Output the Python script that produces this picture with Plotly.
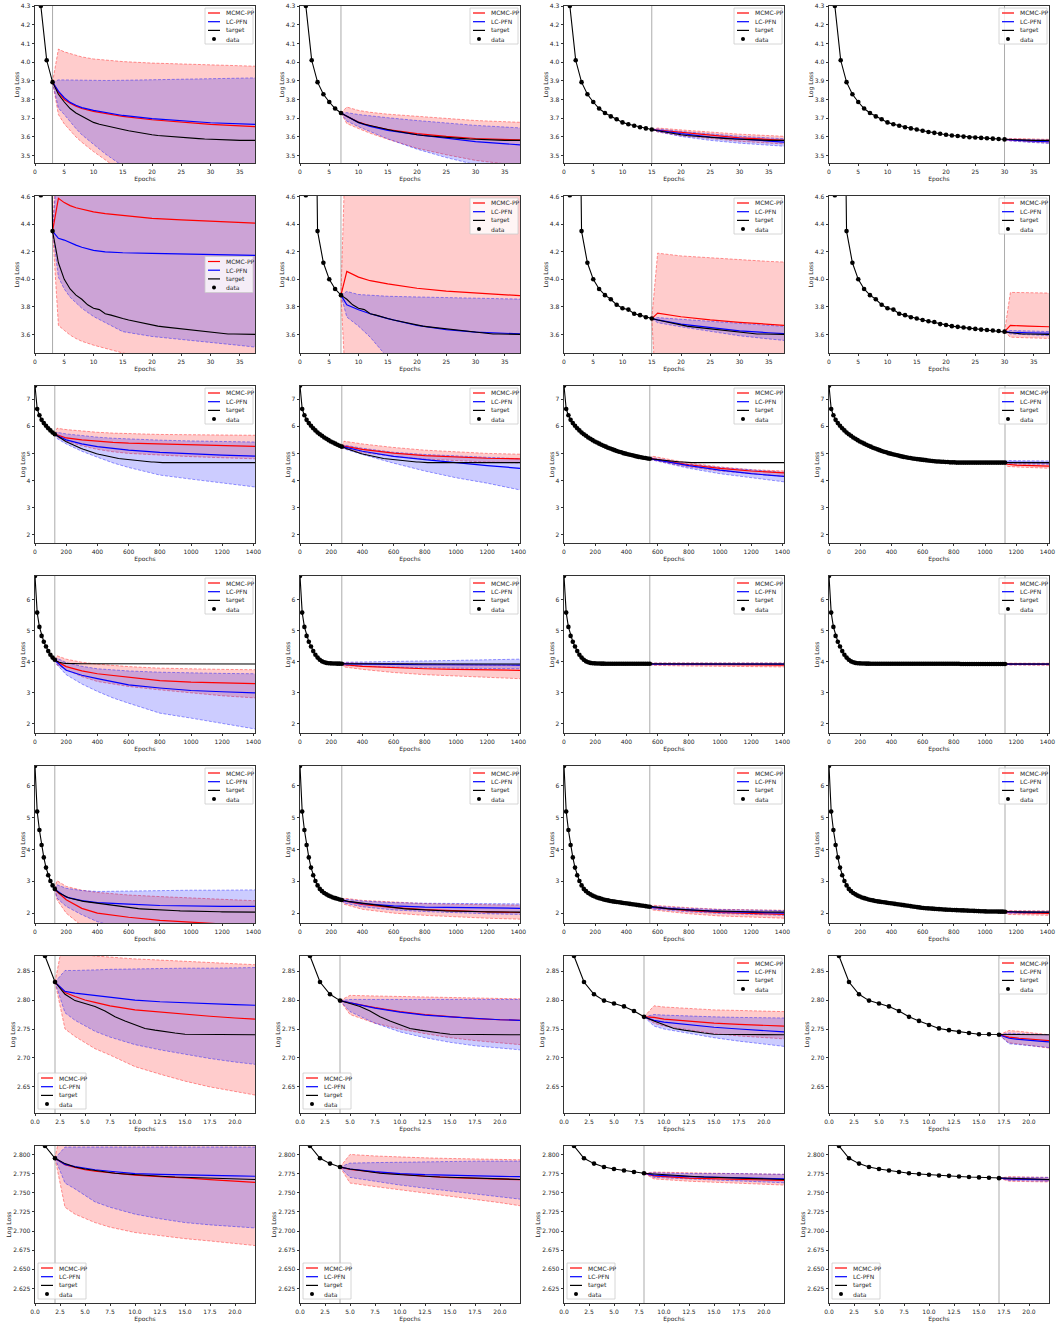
import plotly.graph_objects as go

# ---------------------------------------------------------------- data ----
# Learning curves (one per row); the four panels of a row cut the same curve
# at different epochs.
R1_EPOCHS = list(range(1, 39))
R1_TARGET = [4.30, 4.01, 3.893, 3.828, 3.787, 3.752, 3.728, 3.71, 3.695, 3.678,
             3.668, 3.66, 3.652, 3.646, 3.640, 3.633, 3.627, 3.622, 3.617, 3.612,
             3.608, 3.605, 3.602, 3.599, 3.597, 3.595, 3.593, 3.591, 3.589, 3.587,
             3.585, 3.584, 3.583, 3.583, 3.582, 3.582, 3.582, 3.582]
R1_CUTOFFS = [3, 7, 15, 30]

R2_EPOCHS = list(range(1, 39))
R2_TARGET = [4.61, 8.0, 4.35, 4.12, 4.00, 3.93, 3.885, 3.855, 3.815, 3.79,
             3.78, 3.75, 3.74, 3.725, 3.715, 3.705, 3.695, 3.69, 3.675, 3.668,
             3.66, 3.655, 3.65, 3.645, 3.64, 3.635, 3.632, 3.628, 3.625, 3.62,
             3.615, 3.605, 3.603, 3.603, 3.602, 3.601, 3.600, 3.600]
R2_CUTOFFS = [3, 7, 15, 30]

EPOCH_STEP = 14.1
R3_EPOCHS = [round(EPOCH_STEP * k, 1) for k in range(101)]
R3_TARGET = [7.50, 6.64, 6.41, 6.24, 6.12, 6.02, 5.93, 5.85, 5.77, 5.71,
             5.65, 5.59, 5.54, 5.49, 5.44, 5.40, 5.36, 5.32, 5.28, 5.25,
             5.21, 5.18, 5.15, 5.12, 5.09, 5.06, 5.04, 5.01, 4.99, 4.97,
             4.95, 4.93, 4.91, 4.89, 4.87, 4.86, 4.84, 4.83, 4.81, 4.80,
             4.79, 4.78, 4.77, 4.76, 4.75, 4.74, 4.73, 4.72, 4.71, 4.70,
             4.70, 4.69, 4.69, 4.68, 4.68, 4.67, 4.67, 4.67, 4.66, 4.66,
             4.66, 4.66, 4.66, 4.66, 4.66, 4.66, 4.66, 4.66, 4.66, 4.66,
             4.66, 4.66, 4.66, 4.66, 4.66, 4.66, 4.66, 4.66, 4.66, 4.66,
             4.66, 4.66, 4.66, 4.66, 4.66, 4.66, 4.66, 4.66, 4.66, 4.66,
             4.66, 4.66, 4.66, 4.66, 4.66, 4.66, 4.66, 4.66, 4.66, 4.66,
             4.66]
R3_CUTOFFS = [126.9, 267.9, 549.9, 1128.0]

R4_EPOCHS = [round(EPOCH_STEP * k, 1) for k in range(101)]
R4_TARGET = [6.76, 5.58, 5.12, 4.83, 4.64, 4.49, 4.34, 4.22, 4.13, 4.06,
             4.01, 3.98, 3.96, 3.95, 3.945, 3.94, 3.94, 3.935, 3.935, 3.93,
             3.93, 3.93, 3.93, 3.93, 3.93, 3.93, 3.93, 3.93, 3.93, 3.93,
             3.93, 3.93, 3.93, 3.93, 3.93, 3.93, 3.93, 3.93, 3.93, 3.93,
             3.93, 3.93, 3.93, 3.93, 3.93, 3.93, 3.93, 3.93, 3.93, 3.93,
             3.93, 3.93, 3.93, 3.93, 3.93, 3.93, 3.93, 3.93, 3.93, 3.93,
             3.925, 3.925, 3.925, 3.925, 3.925, 3.925, 3.925, 3.925, 3.925, 3.925,
             3.925, 3.925, 3.925, 3.925, 3.925, 3.925, 3.925, 3.925, 3.925, 3.925,
             3.925, 3.925, 3.925, 3.925, 3.925, 3.925, 3.925, 3.925, 3.925, 3.925,
             3.925, 3.925, 3.925, 3.925, 3.925, 3.925, 3.925, 3.925, 3.925, 3.925,
             3.925]
R4_CUTOFFS = [126.9, 267.9, 549.9, 1128.0]

R5_EPOCHS = [round(EPOCH_STEP * k, 1) for k in range(101)]
R5_TARGET = [6.62, 5.19, 4.61, 4.14, 3.75, 3.43, 3.19, 3.01, 2.87, 2.76,
             2.69, 2.63, 2.59, 2.55, 2.52, 2.49, 2.47, 2.45, 2.43, 2.41,
             2.40, 2.38, 2.37, 2.36, 2.35, 2.34, 2.33, 2.32, 2.31, 2.30,
             2.29, 2.28, 2.27, 2.26, 2.25, 2.24, 2.23, 2.22, 2.21, 2.20,
             2.19, 2.18, 2.17, 2.16, 2.155, 2.15, 2.145, 2.14, 2.135, 2.13,
             2.125, 2.12, 2.115, 2.11, 2.107, 2.104, 2.10, 2.097, 2.094, 2.091,
             2.088, 2.085, 2.082, 2.079, 2.076, 2.073, 2.07, 2.067, 2.064, 2.061,
             2.058, 2.055, 2.053, 2.052, 2.051, 2.05, 2.049, 2.048, 2.047, 2.046,
             2.045, 2.044, 2.043, 2.042, 2.041, 2.04, 2.039, 2.038, 2.037, 2.036,
             2.035, 2.035, 2.034, 2.034, 2.033, 2.033, 2.032, 2.032, 2.031, 2.031,
             2.03]
R5_CUTOFFS = [126.9, 267.9, 549.9, 1128.0]

R6_EPOCHS = list(range(1, 23))
R6_TARGET = [2.876, 2.831, 2.810, 2.799, 2.794, 2.789, 2.781, 2.771, 2.764, 2.757,
             2.751, 2.748, 2.745, 2.743, 2.741, 2.741, 2.740, 2.740, 2.740, 2.740,
             2.740, 2.740]
R6_CUTOFFS = [2, 4, 8, 17]

R7_EPOCHS = list(range(1, 23))
R7_TARGET = [2.811, 2.795, 2.788, 2.7835, 2.781, 2.779, 2.777, 2.7755, 2.7745, 2.7735,
             2.7725, 2.772, 2.7712, 2.7705, 2.770, 2.7695, 2.769, 2.7685, 2.768, 2.7677,
             2.7675, 2.7673]
R7_CUTOFFS = [2, 4, 8, 17]

# Predictions per panel: posterior mean and band edges of both methods.
P11_X = [3, 4, 5, 6, 7, 8, 10, 12, 15, 20, 25, 30, 38]
P11_MCMC = [3.893, 3.84, 3.80, 3.78, 3.765, 3.752, 3.737, 3.725, 3.710, 3.692, 3.678, 3.667, 3.655]
P11_MCMC_HI = [3.893, 4.07, 4.055, 4.045, 4.035, 4.028, 4.017, 4.01, 4.003, 3.995, 3.99, 3.985, 3.978]
P11_MCMC_LO = [3.893, 3.72, 3.67, 3.635, 3.60, 3.572, 3.522, 3.478, 3.41, 3.32, 3.25, 3.2, 3.12]
P11_PFN = [3.893, 3.845, 3.81, 3.785, 3.77, 3.757, 3.742, 3.73, 3.715, 3.698, 3.685, 3.676, 3.667]
P11_PFN_HI = [3.893, 3.905, 3.905, 3.904, 3.903, 3.903, 3.902, 3.902, 3.903, 3.905, 3.908, 3.911, 3.916]
P11_PFN_LO = [3.893, 3.755, 3.72, 3.68, 3.645, 3.612, 3.56, 3.51, 3.445, 3.35, 3.27, 3.2, 3.1]

P12_X = [7, 8, 10, 12, 15, 20, 25, 30, 38]
P12_MCMC = [3.728, 3.71, 3.68, 3.66, 3.64, 3.618, 3.603, 3.592, 3.584]
P12_MCMC_HI = [3.728, 3.76, 3.742, 3.732, 3.722, 3.71, 3.698, 3.688, 3.678]
P12_MCMC_LO = [3.728, 3.672, 3.645, 3.62, 3.588, 3.54, 3.505, 3.475, 3.445]
P12_PFN = [3.728, 3.712, 3.677, 3.657, 3.635, 3.612, 3.593, 3.575, 3.557]
P12_PFN_HI = [3.728, 3.73, 3.72, 3.712, 3.703, 3.688, 3.675, 3.662, 3.648]
P12_PFN_LO = [3.728, 3.685, 3.655, 3.628, 3.59, 3.535, 3.49, 3.452, 3.40]

P13_X = [15, 16, 20, 25, 30, 38]
P13_MCMC = [3.64, 3.637, 3.622, 3.607, 3.595, 3.582]
P13_MCMC_HI = [3.64, 3.648, 3.638, 3.625, 3.615, 3.603]
P13_MCMC_LO = [3.64, 3.627, 3.607, 3.59, 3.577, 3.562]
P13_PFN = [3.64, 3.635, 3.618, 3.60, 3.588, 3.572]
P13_PFN_HI = [3.64, 3.643, 3.63, 3.615, 3.604, 3.59]
P13_PFN_LO = [3.64, 3.628, 3.603, 3.582, 3.567, 3.55]

P14_X = [30, 31, 34, 38]
P14_MCMC = [3.587, 3.585, 3.581, 3.577]
P14_MCMC_HI = [3.587, 3.592, 3.59, 3.587]
P14_MCMC_LO = [3.587, 3.58, 3.574, 3.567]
P14_PFN = [3.587, 3.584, 3.579, 3.574]
P14_PFN_HI = [3.587, 3.589, 3.586, 3.583]
P14_PFN_LO = [3.587, 3.579, 3.572, 3.565]

P21_X = [3, 4, 5, 6, 7, 8, 10, 12, 15, 20, 25, 30, 35, 38]
P21_MCMC = [4.35, 4.588, 4.557, 4.535, 4.52, 4.51, 4.49, 4.477, 4.463, 4.443, 4.432, 4.424, 4.414, 4.408]
P21_MCMC_HI = [4.35, 6.0, 6.0, 6.0, 6.0, 6.0, 6.0, 6.0, 6.0, 6.0, 6.0, 6.0, 6.0, 6.0]
P21_MCMC_LO = [4.35, 3.665, 3.63, 3.595, 3.57, 3.55, 3.522, 3.5, 3.465, 3.43, 3.40, 3.38, 3.36, 3.35]
P21_PFN = [4.35, 4.298, 4.285, 4.265, 4.248, 4.233, 4.21, 4.2, 4.193, 4.188, 4.184, 4.18, 4.176, 4.174]
P21_PFN_HI = [4.35, 5.5, 5.5, 5.5, 5.5, 5.5, 5.5, 5.5, 5.5, 5.5, 5.5, 5.5, 5.5, 5.5]
P21_PFN_LO = [4.35, 4.016, 3.93, 3.87, 3.83, 3.79, 3.73, 3.685, 3.62, 3.585, 3.565, 3.545, 3.52, 3.506]

P22_X = [7, 8, 10, 12, 15, 20, 25, 30, 38]
P22_MCMC = [3.885, 4.057, 4.016, 3.99, 3.967, 3.935, 3.915, 3.90, 3.88]
P22_MCMC_HI = [3.885, 5.3, 5.5, 5.5, 5.5, 5.5, 5.5, 5.5, 5.5]
P22_MCMC_LO = [3.885, 3.05, 2.9, 2.9, 2.9, 2.9, 2.9, 2.9, 2.9]
P22_PFN = [3.885, 3.815, 3.779, 3.75, 3.715, 3.665, 3.635, 3.617, 3.603]
P22_PFN_HI = [3.885, 3.912, 3.89, 3.883, 3.877, 3.872, 3.866, 3.861, 3.856]
P22_PFN_LO = [3.885, 3.726, 3.66, 3.58, 3.43, 3.3, 3.15, 3.0, 2.8]

P23_X = [15, 16, 20, 25, 30, 35, 38]
P23_MCMC = [3.715, 3.755, 3.728, 3.705, 3.688, 3.673, 3.665]
P23_MCMC_HI = [3.715, 4.19, 4.17, 4.155, 4.14, 4.13, 4.125]
P23_MCMC_LO = [3.715, 2.98, 2.9, 2.85, 2.8, 2.78, 2.77]
P23_PFN = [3.715, 3.705, 3.675, 3.65, 3.625, 3.612, 3.605]
P23_PFN_HI = [3.715, 3.722, 3.71, 3.695, 3.68, 3.665, 3.657]
P23_PFN_LO = [3.715, 3.685, 3.655, 3.62, 3.59, 3.567, 3.555]

P24_X = [30, 31, 34, 38]
P24_MCMC = [3.62, 3.665, 3.66, 3.655]
P24_MCMC_HI = [3.62, 3.905, 3.903, 3.90]
P24_MCMC_LO = [3.62, 3.58, 3.575, 3.57]
P24_PFN = [3.62, 3.615, 3.612, 3.608]
P24_PFN_HI = [3.62, 3.628, 3.625, 3.62]
P24_PFN_LO = [3.62, 3.603, 3.598, 3.59]

P31_X = [126.9, 141, 200, 300, 400, 500, 600, 800, 1000, 1200, 1410]
P31_MCMC = [5.71, 5.68, 5.57, 5.50, 5.45, 5.41, 5.38, 5.35, 5.31, 5.28, 5.26]
P31_MCMC_HI = [5.71, 5.93, 5.88, 5.82, 5.78, 5.75, 5.73, 5.70, 5.69, 5.68, 5.67]
P31_MCMC_LO = [5.71, 5.60, 5.45, 5.28, 5.15, 5.06, 5.00, 4.93, 4.88, 4.84, 4.80]
P31_PFN = [5.71, 5.66, 5.50, 5.35, 5.25, 5.18, 5.12, 5.04, 4.98, 4.94, 4.90]
P31_PFN_HI = [5.71, 5.78, 5.72, 5.65, 5.60, 5.56, 5.53, 5.49, 5.46, 5.44, 5.42]
P31_PFN_LO = [5.71, 5.55, 5.35, 5.08, 4.86, 4.65, 4.48, 4.20, 4.05, 3.90, 3.76]

P32_X = [267.9, 282, 400, 600, 800, 1000, 1200, 1410]
P32_MCMC = [5.25, 5.27, 5.15, 5.01, 4.92, 4.86, 4.82, 4.80]
P32_MCMC_HI = [5.25, 5.45, 5.35, 5.22, 5.12, 5.05, 5.00, 4.97]
P32_MCMC_LO = [5.25, 5.18, 5.03, 4.89, 4.79, 4.73, 4.68, 4.65]
P32_PFN = [5.25, 5.24, 5.08, 4.89, 4.77, 4.65, 4.55, 4.45]
P32_PFN_HI = [5.25, 5.31, 5.19, 5.04, 4.96, 4.90, 4.85, 4.80]
P32_PFN_LO = [5.25, 5.17, 4.96, 4.64, 4.35, 4.10, 3.90, 3.65]

P33_X = [549.9, 564, 700, 800, 1000, 1200, 1410]
P33_MCMC = [4.80, 4.81, 4.67, 4.58, 4.45, 4.35, 4.28]
P33_MCMC_HI = [4.80, 4.90, 4.75, 4.65, 4.50, 4.40, 4.35]
P33_MCMC_LO = [4.80, 4.76, 4.60, 4.50, 4.35, 4.25, 4.15]
P33_PFN = [4.80, 4.79, 4.65, 4.55, 4.38, 4.25, 4.15]
P33_PFN_HI = [4.80, 4.84, 4.70, 4.60, 4.48, 4.38, 4.30]
P33_PFN_LO = [4.80, 4.76, 4.58, 4.45, 4.25, 4.10, 3.95]

P34_X = [1128.0, 1142, 1200, 1300, 1410]
P34_MCMC = [4.66, 4.60, 4.57, 4.55, 4.53]
P34_MCMC_HI = [4.66, 4.66, 4.66, 4.65, 4.65]
P34_MCMC_LO = [4.66, 4.52, 4.50, 4.47, 4.45]
P34_PFN = [4.66, 4.67, 4.67, 4.66, 4.66]
P34_PFN_HI = [4.66, 4.74, 4.73, 4.72, 4.72]
P34_PFN_LO = [4.66, 4.62, 4.61, 4.60, 4.60]

P41_X = [126.9, 141, 200, 300, 400, 500, 600, 800, 1000, 1200, 1410]
P41_MCMC = [4.06, 4.00, 3.84, 3.70, 3.61, 3.55, 3.50, 3.39, 3.34, 3.31, 3.29]
P41_MCMC_HI = [4.06, 4.19, 4.08, 3.98, 3.92, 3.87, 3.84, 3.79, 3.76, 3.75, 3.74]
P41_MCMC_LO = [4.06, 3.90, 3.74, 3.52, 3.36, 3.27, 3.20, 3.09, 2.99, 2.90, 2.83]
P41_PFN = [4.06, 3.98, 3.72, 3.56, 3.45, 3.34, 3.25, 3.15, 3.07, 3.03, 2.99]
P41_PFN_HI = [4.06, 4.11, 3.97, 3.85, 3.77, 3.73, 3.70, 3.66, 3.63, 3.62, 3.61]
P41_PFN_LO = [4.06, 3.90, 3.58, 3.28, 3.04, 2.83, 2.66, 2.34, 2.18, 2.00, 1.83]

P42_X = [267.9, 282, 400, 600, 800, 1000, 1200, 1410]
P42_MCMC = [3.93, 3.90, 3.85, 3.80, 3.77, 3.75, 3.73, 3.72]
P42_MCMC_HI = [3.93, 3.97, 3.95, 3.93, 3.91, 3.90, 3.89, 3.88]
P42_MCMC_LO = [3.93, 3.83, 3.75, 3.65, 3.58, 3.53, 3.49, 3.45]
P42_PFN = [3.93, 3.93, 3.92, 3.91, 3.90, 3.90, 3.89, 3.89]
P42_PFN_HI = [3.93, 3.98, 3.99, 4.00, 4.02, 4.04, 4.06, 4.08]
P42_PFN_LO = [3.93, 3.88, 3.85, 3.82, 3.80, 3.79, 3.78, 3.77]

P43_X = [549.9, 564, 800, 1000, 1410]
P43_MCMC = [3.93, 3.92, 3.91, 3.90, 3.89]
P43_MCMC_HI = [3.93, 3.96, 3.96, 3.96, 3.96]
P43_MCMC_LO = [3.93, 3.88, 3.86, 3.85, 3.83]
P43_PFN = [3.93, 3.92, 3.92, 3.92, 3.92]
P43_PFN_HI = [3.93, 3.95, 3.95, 3.95, 3.95]
P43_PFN_LO = [3.93, 3.90, 3.90, 3.90, 3.90]

P44_X = [1128.0, 1142, 1410]
P44_MCMC = [3.925, 3.92, 3.91]
P44_MCMC_HI = [3.925, 3.95, 3.95]
P44_MCMC_LO = [3.925, 3.89, 3.88]
P44_PFN = [3.925, 3.92, 3.92]
P44_PFN_HI = [3.925, 3.94, 3.94]
P44_PFN_LO = [3.925, 3.90, 3.90]

P51_X = [126.9, 141, 200, 300, 400, 500, 600, 800, 1000, 1200, 1410]
P51_MCMC = [2.76, 2.68, 2.42, 2.15, 2.00, 1.93, 1.87, 1.77, 1.71, 1.66, 1.62]
P51_MCMC_HI = [2.76, 3.02, 2.84, 2.72, 2.65, 2.60, 2.57, 2.52, 2.47, 2.43, 2.39]
P51_MCMC_LO = [2.76, 2.42, 2.00, 1.60, 1.40, 1.30, 1.20, 1.10, 1.00, 0.95, 0.90]
P51_PFN = [2.76, 2.70, 2.50, 2.39, 2.33, 2.30, 2.28, 2.24, 2.22, 2.21, 2.21]
P51_PFN_HI = [2.76, 2.89, 2.78, 2.71, 2.68, 2.69, 2.70, 2.71, 2.72, 2.72, 2.73]
P51_PFN_LO = [2.76, 2.47, 2.21, 1.95, 1.73, 1.60, 1.50, 1.40, 1.30, 1.20, 1.10]

P52_X = [267.9, 282, 400, 600, 800, 1000, 1200, 1410]
P52_MCMC = [2.41, 2.38, 2.27, 2.17, 2.11, 2.07, 2.04, 2.02]
P52_MCMC_HI = [2.41, 2.47, 2.40, 2.34, 2.30, 2.28, 2.26, 2.25]
P52_MCMC_LO = [2.41, 2.28, 2.12, 2.00, 1.93, 1.88, 1.84, 1.81]
P52_PFN = [2.41, 2.38, 2.30, 2.23, 2.19, 2.17, 2.16, 2.15]
P52_PFN_HI = [2.41, 2.44, 2.38, 2.33, 2.31, 2.30, 2.29, 2.29]
P52_PFN_LO = [2.41, 2.32, 2.20, 2.10, 2.05, 2.01, 1.98, 1.96]

P53_X = [549.9, 564, 800, 1000, 1410]
P53_MCMC = [2.20, 2.18, 2.08, 2.02, 1.96]
P53_MCMC_HI = [2.20, 2.25, 2.17, 2.12, 2.09]
P53_MCMC_LO = [2.20, 2.10, 1.98, 1.91, 1.84]
P53_PFN = [2.20, 2.18, 2.10, 2.05, 2.00]
P53_PFN_HI = [2.20, 2.22, 2.15, 2.11, 2.08]
P53_PFN_LO = [2.20, 2.13, 2.04, 1.99, 1.93]

P54_X = [1128.0, 1142, 1410]
P54_MCMC = [2.045, 2.02, 1.99]
P54_MCMC_HI = [2.045, 2.08, 2.07]
P54_MCMC_LO = [2.045, 1.96, 1.93]
P54_PFN = [2.045, 2.035, 2.02]
P54_PFN_HI = [2.045, 2.06, 2.06]
P54_PFN_LO = [2.045, 2.00, 1.98]

P61_X = [2, 3, 4, 5, 6, 7.5, 10, 12.5, 15, 17.5, 20, 22]
P61_MCMC = [2.831, 2.813, 2.806, 2.800, 2.796, 2.790, 2.783, 2.779, 2.775, 2.772, 2.769, 2.767]
P61_MCMC_HI = [2.831, 2.92, 2.89, 2.878, 2.876, 2.874, 2.871, 2.869, 2.867, 2.865, 2.863, 2.861]
P61_MCMC_LO = [2.831, 2.750, 2.737, 2.726, 2.716, 2.705, 2.685, 2.672, 2.660, 2.650, 2.642, 2.636]
P61_PFN = [2.831, 2.815, 2.812, 2.810, 2.808, 2.805, 2.800, 2.797, 2.795, 2.793, 2.792, 2.791]
P61_PFN_HI = [2.831, 2.851, 2.851, 2.852, 2.852, 2.853, 2.854, 2.855, 2.855, 2.855, 2.856, 2.856]
P61_PFN_LO = [2.831, 2.778, 2.765, 2.755, 2.746, 2.736, 2.723, 2.714, 2.706, 2.699, 2.693, 2.689]

P62_X = [4, 5, 7.5, 10, 12.5, 15, 17.5, 20, 22]
P62_MCMC = [2.799, 2.795, 2.787, 2.780, 2.775, 2.771, 2.768, 2.766, 2.765]
P62_MCMC_HI = [2.799, 2.808, 2.807, 2.806, 2.805, 2.804, 2.803, 2.802, 2.802]
P62_MCMC_LO = [2.799, 2.775, 2.760, 2.750, 2.742, 2.735, 2.730, 2.726, 2.723]
P62_PFN = [2.799, 2.795, 2.786, 2.779, 2.774, 2.771, 2.768, 2.766, 2.765]
P62_PFN_HI = [2.799, 2.801, 2.801, 2.801, 2.801, 2.801, 2.801, 2.801, 2.801]
P62_PFN_LO = [2.799, 2.780, 2.760, 2.745, 2.735, 2.727, 2.721, 2.717, 2.714]

P63_X = [8, 9, 10, 12.5, 15, 17.5, 20, 22]
P63_MCMC = [2.771, 2.770, 2.767, 2.763, 2.760, 2.758, 2.756, 2.755]
P63_MCMC_HI = [2.771, 2.790, 2.788, 2.785, 2.783, 2.782, 2.781, 2.780]
P63_MCMC_LO = [2.771, 2.760, 2.755, 2.748, 2.742, 2.738, 2.735, 2.733]
P63_PFN = [2.771, 2.765, 2.762, 2.757, 2.753, 2.750, 2.747, 2.745]
P63_PFN_HI = [2.771, 2.775, 2.774, 2.772, 2.771, 2.770, 2.769, 2.769]
P63_PFN_LO = [2.771, 2.755, 2.750, 2.742, 2.735, 2.729, 2.724, 2.720]

P64_X = [17, 18, 19, 20, 21, 22]
P64_MCMC = [2.740, 2.736, 2.734, 2.733, 2.731, 2.730]
P64_MCMC_HI = [2.740, 2.7474, 2.746, 2.744, 2.742, 2.740]
P64_MCMC_LO = [2.740, 2.726, 2.724, 2.722, 2.719, 2.717]
P64_PFN = [2.740, 2.734, 2.732, 2.731, 2.729, 2.7277]
P64_PFN_HI = [2.740, 2.743, 2.742, 2.741, 2.740, 2.740]
P64_PFN_LO = [2.740, 2.7245, 2.723, 2.721, 2.719, 2.718]

P71_X = [2, 3, 4, 5, 6, 7.5, 10, 12.5, 15, 17.5, 20, 22]
P71_MCMC = [2.795, 2.7865, 2.783, 2.780, 2.778, 2.776, 2.773, 2.771, 2.7695, 2.767, 2.765, 2.7634]
P71_MCMC_HI = [2.795, 2.86, 2.86, 2.86, 2.86, 2.86, 2.86, 2.86, 2.86, 2.86, 2.86, 2.86]
P71_MCMC_LO = [2.795, 2.731, 2.722, 2.716, 2.711, 2.705, 2.698, 2.694, 2.690, 2.687, 2.684, 2.681]
P71_PFN = [2.795, 2.787, 2.784, 2.782, 2.780, 2.778, 2.775, 2.774, 2.773, 2.7725, 2.772, 2.7715]
P71_PFN_HI = [2.795, 2.8096, 2.8096, 2.8096, 2.8096, 2.8096, 2.8096, 2.8096, 2.8096, 2.8096, 2.8096, 2.8096]
P71_PFN_LO = [2.795, 2.7626, 2.755, 2.746, 2.738, 2.731, 2.722, 2.716, 2.711, 2.708, 2.706, 2.704]

P72_X = [4, 5, 7.5, 10, 12.5, 15, 17.5, 20, 22]
P72_MCMC = [2.7835, 2.7805, 2.777, 2.774, 2.7715, 2.7698, 2.7685, 2.7675, 2.767]
P72_MCMC_HI = [2.7835, 2.800, 2.798, 2.7965, 2.7955, 2.7947, 2.794, 2.7935, 2.793]
P72_MCMC_LO = [2.7835, 2.7626, 2.758, 2.7539, 2.749, 2.745, 2.741, 2.737, 2.733]
P72_PFN = [2.7835, 2.781, 2.7775, 2.775, 2.7735, 2.7725, 2.7718, 2.7713, 2.771]
P72_PFN_HI = [2.7835, 2.7887, 2.7893, 2.790, 2.7905, 2.791, 2.7912, 2.7913, 2.7913]
P72_PFN_LO = [2.7835, 2.770, 2.765, 2.760, 2.756, 2.752, 2.748, 2.744, 2.7416]

P73_X = [8, 9, 12.5, 17.5, 22]
P73_MCMC = [2.7755, 2.772, 2.769, 2.767, 2.766]
P73_MCMC_HI = [2.7755, 2.777, 2.776, 2.775, 2.774]
P73_MCMC_LO = [2.7755, 2.768, 2.765, 2.762, 2.760]
P73_PFN = [2.7755, 2.773, 2.771, 2.769, 2.768]
P73_PFN_HI = [2.7755, 2.776, 2.775, 2.775, 2.774]
P73_PFN_LO = [2.7755, 2.770, 2.768, 2.765, 2.763]

P74_X = [17, 18, 22]
P74_MCMC = [2.769, 2.768, 2.767]
P74_MCMC_HI = [2.769, 2.771, 2.770]
P74_MCMC_LO = [2.769, 2.765, 2.764]
P74_PFN = [2.769, 2.768, 2.767]
P74_PFN_HI = [2.769, 2.770, 2.770]
P74_PFN_LO = [2.769, 2.766, 2.765]

LEGEND_LABELS = ["MCMC-PP", "LC-PFN", "target", "data"]

# ------------------------------------------------------------- layout ----
FIG_W, FIG_H = 1061, 1331
COL_LEFT = [35, 300, 564, 829]
ROW_TOP = [6 + 190 * r for r in range(7)]
PLOT_W, PLOT_H = 220, 157

ROW_AXES = [
    dict(xr=[0, 37.6], xd=5, xf="", yr=[3.461, 4.30], y0=3.5, yd=0.1, yf=".1f"),
    dict(xr=[0, 37.6], xd=5, xf="", yr=[3.465, 4.605], y0=3.6, yd=0.2, yf=".1f"),
    dict(xr=[0, 1410], xd=200, xf="", yr=[1.69, 7.49], y0=2, yd=1, yf="d"),
    dict(xr=[0, 1410], xd=200, xf="", yr=[1.70, 6.76], y0=2, yd=1, yf="d"),
    dict(xr=[0, 1410], xd=200, xf="", yr=[1.69, 6.62], y0=2, yd=1, yf="d"),
    dict(xr=[0, 22], xd=2.5, xf=".1f", yr=[2.605, 2.876], y0=2.65, yd=0.05, yf=".2f"),
    dict(xr=[0, 22], xd=2.5, xf=".1f", yr=[2.606, 2.811], y0=2.625, yd=0.025, yf=".3f"),
]
LEGEND_LOC = [
    ["ur", "ur", "ur", "ur"],
    ["cr", "ur", "ur", "ur"],
    ["ur", "ur", "ur", "ur"],
    ["ur", "ur", "ur", "ur"],
    ["ur", "ur", "ur", "ur"],
    ["ll", "ll", "ur", "ur"],
    ["ll", "ll", "ll", "ll"],
]

FONT = "DejaVu Sans"
TXT = "#262626"
RED, BLUE, BLACK = "rgb(255,0,0)", "rgb(0,0,255)", "black"
RED_FILL, BLUE_FILL = "rgba(255,0,0,0.2)", "rgba(0,0,255,0.2)"
RED_EDGE, BLUE_EDGE = "rgba(255,0,0,0.45)", "rgba(0,0,255,0.45)"


def px(x):
    return x / FIG_W


def py(y):
    return 1 - y / FIG_H


fig = go.Figure()
shapes, annotations = [], []
layout_axes = {}


def add_band(x, lo, hi, edge, fill, xa, ya):
    edge_line = dict(color=edge, width=0.9, dash="3px,1.6px")
    fig.add_trace(go.Scatter(x=x, y=hi, mode="lines", line=edge_line, xaxis=xa, yaxis=ya,
                             showlegend=False, hoverinfo="skip"))
    fig.add_trace(go.Scatter(x=x, y=lo, mode="lines", line=edge_line, fill="tonexty",
                             fillcolor=fill, xaxis=xa, yaxis=ya, showlegend=False,
                             hoverinfo="skip"))


def add_legend(r, c, loc):
    left, top = COL_LEFT[c], ROW_TOP[r]
    bw, bh = 48, 36
    if loc == "ur":
        x0, y0 = left + PLOT_W - 2 - bw, top + 2
    elif loc == "cr":
        x0, y0 = left + PLOT_W - 2 - bw, top + PLOT_H / 2 - bh / 2
    else:
        x0, y0 = left + 3, top + PLOT_H - 4 - bh
    shapes.append(dict(type="rect", xref="paper", yref="paper",
                       x0=px(x0), x1=px(x0 + bw), y0=py(y0), y1=py(y0 + bh),
                       fillcolor="rgba(255,255,255,0.8)",
                       line=dict(color="#cccccc", width=0.8), layer="above"))
    colors = [RED, BLUE, BLACK, None]
    for i, label in enumerate(LEGEND_LABELS):
        yy = y0 + 5 + 8.7 * i
        if colors[i] is not None:
            shapes.append(dict(type="line", xref="paper", yref="paper",
                               x0=px(x0 + 3), x1=px(x0 + 15), y0=py(yy), y1=py(yy),
                               line=dict(color=colors[i], width=1.2), layer="above"))
        else:
            shapes.append(dict(type="circle", xref="paper", yref="paper",
                               x0=px(x0 + 7), x1=px(x0 + 11), y0=py(yy - 2), y1=py(yy + 2),
                               fillcolor=BLACK, line=dict(color=BLACK, width=0), layer="above"))
        annotations.append(dict(text=label, xref="paper", yref="paper", x=px(x0 + 19),
                                y=py(yy), xanchor="left", yanchor="middle", showarrow=False,
                                font=dict(family=FONT, size=6, color=TXT)))


for r in range(7):
    epochs = globals()[f"R{r + 1}_EPOCHS"]
    target = globals()[f"R{r + 1}_TARGET"]
    cutoffs = globals()[f"R{r + 1}_CUTOFFS"]
    ax = ROW_AXES[r]
    for c in range(4):
        n = r * 4 + c + 1
        sfx = "" if n == 1 else str(n)
        xa, ya = "x" + sfx, "y" + sfx
        key = f"P{r + 1}{c + 1}"
        px_ = globals()[key + "_X"]
        cut = cutoffs[c]

        add_band(px_, globals()[key + "_MCMC_LO"], globals()[key + "_MCMC_HI"],
                 RED_EDGE, RED_FILL, xa, ya)
        add_band(px_, globals()[key + "_PFN_LO"], globals()[key + "_PFN_HI"],
                 BLUE_EDGE, BLUE_FILL, xa, ya)
        fig.add_trace(go.Scatter(x=px_, y=globals()[key + "_MCMC"], mode="lines",
                                 line=dict(color=RED, width=1.2), xaxis=xa, yaxis=ya,
                                 name="MCMC-PP", showlegend=False))
        fig.add_trace(go.Scatter(x=px_, y=globals()[key + "_PFN"], mode="lines",
                                 line=dict(color=BLUE, width=1.2), xaxis=xa, yaxis=ya,
                                 name="LC-PFN", showlegend=False))
        fig.add_trace(go.Scatter(x=epochs, y=target, mode="lines",
                                 line=dict(color=BLACK, width=1.1), xaxis=xa, yaxis=ya,
                                 name="target", showlegend=False))
        seen = [i for i, e in enumerate(epochs) if e <= cut + 1e-9]
        fig.add_trace(go.Scatter(x=[epochs[i] for i in seen], y=[target[i] for i in seen],
                                 mode="markers", marker=dict(color=BLACK, size=4.6),
                                 xaxis=xa, yaxis=ya, name="data", showlegend=False))

        shapes.append(dict(type="line", xref=xa, yref=f"{ya} domain", x0=cut, x1=cut,
                           y0=0, y1=1, line=dict(color="rgba(150,150,150,0.8)", width=1),
                           layer="below"))

        left, top = COL_LEFT[c], ROW_TOP[r]
        common = dict(showline=True, mirror=True, linecolor="#333", linewidth=0.8,
                      ticks="outside", ticklen=2.5, tickwidth=0.7, tickcolor="#333",
                      tickfont=dict(family=FONT, size=6, color=TXT), showgrid=False,
                      zeroline=False, automargin=False)
        layout_axes["xaxis" + sfx] = dict(
            common, domain=[px(left), px(left + PLOT_W)], anchor=ya, range=ax["xr"],
            tick0=0, dtick=ax["xd"], tickformat=ax["xf"],
            title=dict(text="Epochs", font=dict(family=FONT, size=6, color=TXT), standoff=2))
        layout_axes["yaxis" + sfx] = dict(
            common, domain=[py(top + PLOT_H), py(top)], anchor=xa, range=ax["yr"],
            tick0=ax["y0"], dtick=ax["yd"], tickformat=ax["yf"],
            title=dict(text="Log Loss", font=dict(family=FONT, size=6, color=TXT), standoff=0))

        add_legend(r, c, LEGEND_LOC[r][c])

fig.update_layout(
    width=FIG_W, height=FIG_H, autosize=False,
    margin=dict(l=0, r=0, t=0, b=0),
    paper_bgcolor="white", plot_bgcolor="white",
    showlegend=False, font=dict(family=FONT, size=6, color=TXT),
    shapes=shapes, annotations=annotations, **layout_axes)

fig.write_html("out.html")
